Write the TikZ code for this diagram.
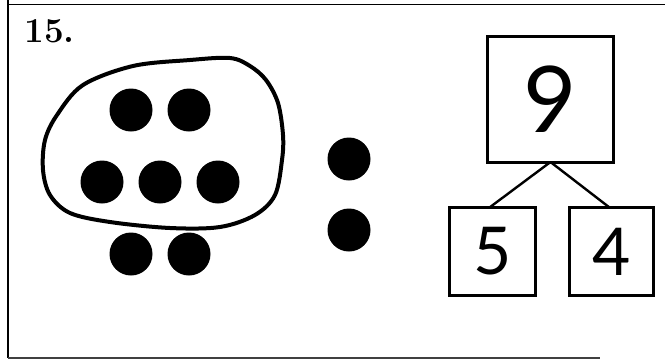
\documentclass[tikz,border=0pt]{standalone}
\usepackage{fontspec}
\newfontfamily\handfont{Lato}
\begin{document}
\begin{tikzpicture}[x=1pt,y=-1pt,every node/.style={outer sep=0pt},
  counter/.style={circle,fill=black,minimum size=43pt,inner sep=0pt},
  numbox/.style={draw,line width=3pt,inner sep=0pt,font=\handfont},
  frameline/.style={line width=1.8pt}]
\useasboundingbox (0,0) rectangle (665,360);

% frame of the exercise
\draw[frameline] (8,0) -- (8,358);
\draw[frameline] (8,4.5) -- (665,4.5);
\draw[frameline,black!75] (8,358) -- (600,358);
\node[anchor=base west,font=\fontsize{35}{35}\selectfont\bfseries] (num) at (21,42) {15.};

% counters: name/x/y
\foreach \n/\x/\y in {a/131/110, b/189/110,
  c/102/182, d/160/182, e/218/182,
  f/131/254, g/189/254,
  h/349/159, i/349/230}
  \node[counter] (dot\n) at (\x,\y) {};

% loop round the group of five
\draw[line width=4pt,line join=round] plot[smooth cycle,tension=0.55] coordinates {
  (230,58) (250,66) (266,80) (278,103) (283,135) (282,160) (275,195)
  (255,215) (220,227) (170,228) (110,222) (70,213) (50,195) (43,170)
  (45,140) (57,115) (83,85) (133,66) (190,60)};

% number bond
\node[numbox,minimum width=126pt,minimum height=126pt,font=\handfont\fontsize{92}{92}\selectfont]
  (whole) at (550.5,99) {9};
\node[numbox,minimum width=86pt,minimum height=88pt,font=\handfont\fontsize{66}{66}\selectfont]
  (partA) at (492.5,251.5) {5};
\node[numbox,minimum width=84pt,minimum height=88pt,font=\handfont\fontsize{66}{66}\selectfont]
  (partB) at (611.5,251.5) {4};
\draw[line width=2.4pt] (whole.south) -- ([xshift=-3pt]partA.north);
\draw[line width=2.4pt] (whole.south) -- ([xshift=-2pt]partB.north);
\end{tikzpicture}
\end{document}
